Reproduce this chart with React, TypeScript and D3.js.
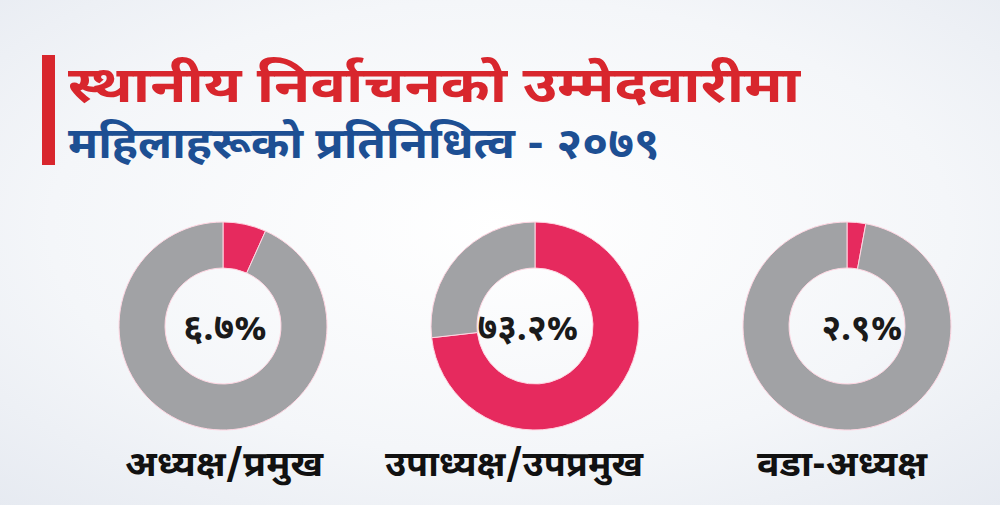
import React from "react";
import * as d3 from "d3";

const categories = ["अध्यक्ष/प्रमुख", "उपाध्यक्ष/उपप्रमुख", "वडा-अध्यक्ष"];
const womenShare = [6.7, 73.2, 2.9];
const valueLabels = ["६.७%", "७३.२%", "२.९%"];
const titleLine1 = "स्थानीय निर्वाचनको उम्मेदवारीमा";
const titleLine2 = "महिलाहरूको प्रतिनिधित्व - २०७९";

const W = 1000;
const H = 505;
const centersX = [223, 535, 847];
const centerY = 326;
const outerR = 104;
const innerR = 58;
const PINK = "#e62a5e";
const GRAY = "#a1a2a5";
const FONT = "'Noto Sans Devanagari', 'Lohit Devanagari', 'Mukta', 'Noto Sans', sans-serif";

const valueX = [225, 528, 862];
const valueW = [84, 101, 81];
const labelX = [224, 514, 842];
const labelW = [198, 258, 170];

export default function App() {
  const pie = d3.pie<number>().sort(null).value((d) => d);
  const arc = d3.arc<d3.PieArcDatum<number>>().innerRadius(innerR).outerRadius(outerR);
  return (
    <svg width={W} height={H} style={{ position: "absolute", left: 0, top: 0 }}>
      <defs>
        <radialGradient id="bg" cx="50%" cy="45%" r="75%">
          <stop offset="0%" stopColor="#ffffff" />
          <stop offset="60%" stopColor="#f4f6f9" />
          <stop offset="100%" stopColor="#e6eaf1" />
        </radialGradient>
      </defs>
      <rect x={0} y={0} width={W} height={H} fill="url(#bg)" />
      <rect x={42} y={55} width={13} height={110} fill="#d8262d" />
      <text x={68} y={102} fill="#d8262d" fontFamily={FONT} fontWeight={700} fontSize={50}
        textLength={732} lengthAdjust="spacingAndGlyphs">
        {titleLine1}
      </text>
      <text x={68} y={158} fill="#1d4f93" fontFamily={FONT} fontWeight={700} fontSize={43}
        textLength={592} lengthAdjust="spacingAndGlyphs">
        {titleLine2}
      </text>
      {womenShare.map((v, i) => {
        const arcs = pie([v, 100 - v]);
        return (
          <g key={i} transform={`translate(${centersX[i]},${centerY})`}>
            {arcs.map((a, j) => (
              <path key={j} d={arc(a) || ""} fill={j === 0 ? PINK : GRAY} stroke="#ffd6e2" strokeWidth={1} />
            ))}
          </g>
        );
      })}
      {valueLabels.map((t, i) => (
        <text key={t} x={valueX[i] - valueW[i] / 2} y={340} fontFamily={FONT} fontWeight={700} fontSize={36}
          fill="#1a1a1a" textLength={valueW[i]} lengthAdjust="spacingAndGlyphs">
          {t}
        </text>
      ))}
      {categories.map((c, i) => (
        <text key={c} x={labelX[i] - labelW[i] / 2} y={476} fontFamily={FONT} fontWeight={700} fontSize={35}
          fill="#111" textLength={labelW[i]} lengthAdjust="spacingAndGlyphs">
          {c}
        </text>
      ))}
    </svg>
  );
}
